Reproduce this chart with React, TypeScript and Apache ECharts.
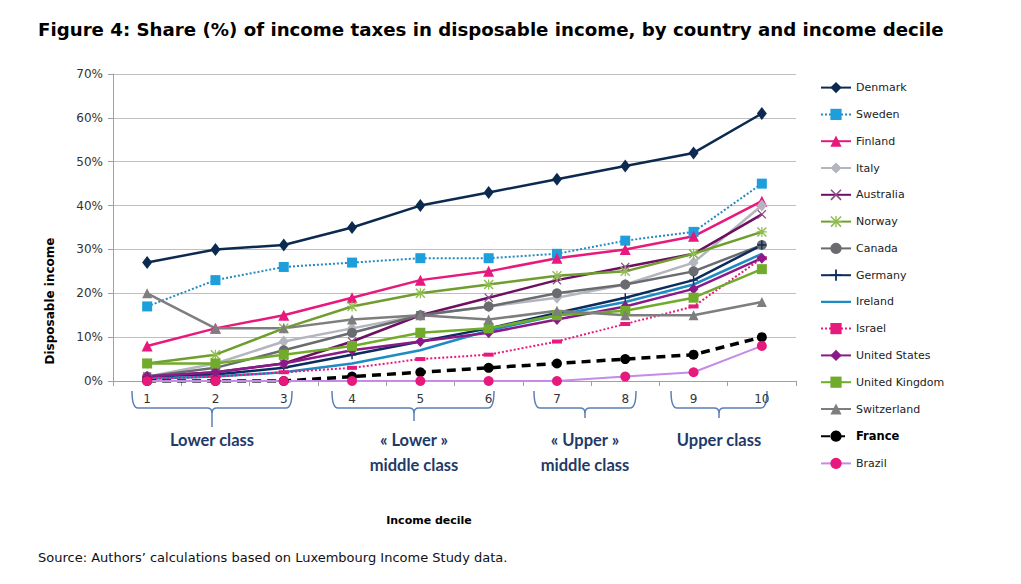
import React, { useEffect, useRef } from "react";
import * as echarts from "echarts";

const deciles = ["1", "2", "3", "4", "5", "6", "7", "8", "9", "10"];
const yTicks = [0, 10, 20, 30, 40, 50, 60, 70];

const denmark = [27, 30, 31, 35, 40, 43, 46, 49, 52, 61];
const sweden = [17, 23, 26, 27, 28, 28, 29, 32, 34, 45];
const finland = [8, 12, 15, 19, 23, 25, 28, 30, 33, 41];
const italy = [1, 4, 9, 12, 15, 17, 19, 22, 27, 40];
const australia = [1, 2, 4, 9, 15, 19, 23, 26, 29, 38];
const norway = [4, 6, 12, 17, 20, 22, 24, 25, 29, 34];
const canada = [1, 3, 7, 11, 15, 17, 20, 22, 25, 31];
const germany = [1, 1.5, 3, 6, 9, 12, 15.5, 19, 23, 31];
const ireland = [0.5, 1, 2, 4, 7, 11.5, 15, 18, 22, 29];
const israel = [0.5, 1, 2, 3, 5, 6, 9, 13, 17, 28];
const unitedStates = [1, 2, 4, 7, 9, 11, 14, 17, 21, 28];
const unitedKingdom = [4, 4, 6, 8, 11, 12, 15, 16, 19, 25.5];
const switzerland = [20, 12, 12, 14, 15, 14, 16, 15, 15, 18];
const france = [0, 0, 0, 1, 2, 3, 4, 5, 6, 10];
const brazil = [0, 0, 0, 0, 0, 0, 0, 1, 2, 8];

const PLUS = "path://M4.2,0H5.8V4.2H10V5.8H5.8V10H4.2V5.8H0V4.2H4.2Z";
const XMARK = "path://M1,0L5,4L9,0L10,1L6,5L10,9L9,10L5,6L1,10L0,9L4,5L0,1Z";
const ASTER =
  "path://M1,0L5,4L9,0L10,1L6,5L10,9L9,10L5,6L1,10L0,9L4,5L0,1ZM4.4,0H5.6V4.4H10V5.6H5.6V10H4.4V5.6H0V4.4H4.4Z";
const LINE_ONLY_ICON = "path://M0,2H0.01V2.01H0ZM0,5.8H30V8.2H0ZM29.99,11.99H30V12H29.99Z";

type Spec = {
  name: string;
  data: number[];
  line: string;
  marker: string;
  symbol: string;
  size: number | number[];
  width: number;
  type?: any;
};

const specs: Spec[] = [
  { name: "Denmark", data: denmark, line: "#0c2a50", marker: "#0c2a50", symbol: "diamond", size: [10, 13], width: 2.5 },
  { name: "Sweden", data: sweden, line: "#2389c2", marker: "#1e9fdc", symbol: "rect", size: 10, width: 2, type: [2, 2] },
  { name: "Finland", data: finland, line: "#e8197c", marker: "#e8197c", symbol: "triangle", size: 11, width: 2.5 },
  { name: "Italy", data: italy, line: "#b3b6bf", marker: "#b3b6bf", symbol: "diamond", size: [10, 12], width: 2.5 },
  { name: "Australia", data: australia, line: "#6e1062", marker: "#8d4c87", symbol: XMARK, size: 9, width: 2.5 },
  { name: "Norway", data: norway, line: "#6f9e2e", marker: "#8fbd4f", symbol: ASTER, size: 10, width: 2.5 },
  { name: "Canada", data: canada, line: "#6a6b6f", marker: "#6a6b6f", symbol: "circle", size: 10, width: 2.5 },
  { name: "Germany", data: germany, line: "#0b2c5e", marker: "#0b2c5e", symbol: PLUS, size: 9, width: 2.5 },
  { name: "Ireland", data: ireland, line: "#1c8cc3", marker: "#1c8cc3", symbol: "none", size: 0, width: 2.5 },
  { name: "Israel", data: israel, line: "#e8197c", marker: "#e8197c", symbol: "rect", size: [10, 4], width: 2, type: [2, 2] },
  { name: "United States", data: unitedStates, line: "#8a1a88", marker: "#8a1a88", symbol: "diamond", size: [10, 11], width: 2.5 },
  { name: "United Kingdom", data: unitedKingdom, line: "#70ab2c", marker: "#70ab2c", symbol: "rect", size: 10, width: 2.5 },
  { name: "Switzerland", data: switzerland, line: "#7e7e7e", marker: "#7e7e7e", symbol: "triangle", size: 10, width: 2.5 },
  { name: "France", data: france, line: "#000000", marker: "#000000", symbol: "circle", size: 10, width: 3.5, type: [9, 6] },
  { name: "Brazil", data: brazil, line: "#c48be8", marker: "#e8197c", symbol: "circle", size: 10, width: 2 },
];

const groups = [
  { x0: 132, x1: 292, mid: 212, spike: 427, label: "Lower class" },
  { x0: 332, x1: 494, mid: 414, spike: 421, label: "« Lower »\nmiddle class" },
  { x0: 534, x1: 636, mid: 585, spike: 418, label: "« Upper »\nmiddle class" },
  { x0: 671, x1: 767, mid: 719, spike: 418, label: "Upper class" },
];

function brace(g: typeof groups[number]) {
  const top = 391;
  const h = 408;
  const r = 6;
  const s = { stroke: "#5a7fb6", lineWidth: 1.5, fill: "none" };
  const out: any[] = [
    { type: "bezierCurve", shape: { x1: g.x0, y1: top, x2: g.x0 + r, y2: h, cpx1: g.x0, cpy1: h }, style: s },
    { type: "line", shape: { x1: g.x0 + r, y1: h, x2: g.mid - 5, y2: h }, style: s },
    { type: "bezierCurve", shape: { x1: g.mid - 5, y1: h, x2: g.mid, y2: h + 5, cpx1: g.mid, cpy1: h }, style: s },
    { type: "bezierCurve", shape: { x1: g.mid + 5, y1: h, x2: g.mid, y2: h + 5, cpx1: g.mid, cpy1: h }, style: s },
    { type: "line", shape: { x1: g.mid, y1: h + 5, x2: g.mid, y2: g.spike }, style: s },
    { type: "line", shape: { x1: g.mid + 5, y1: h, x2: g.x1 - r, y2: h }, style: s },
    { type: "bezierCurve", shape: { x1: g.x1 - r, y1: h, x2: g.x1, y2: top, cpx1: g.x1, cpy1: h }, style: s },
    {
      type: "text",
      x: g.mid,
      y: 427,
      style: {
        text: g.label,
        fill: "#1f3a68",
        font: "bold 16.5px Lato",
        lineHeight: 25,
        align: "center",
        verticalAlign: "top",
      },
    },
  ];
  return out;
}

export default function App() {
  const ref = useRef<HTMLDivElement>(null);
  useEffect(() => {
    document.body.style.margin = "0";
    const chart = echarts.init(ref.current!, undefined, { renderer: "svg" });
    const font = "DejaVu Sans";
    chart.setOption({
      animation: false,
      backgroundColor: "#ffffff",
      grid: { left: 113, right: 225, top: 74, bottom: 203, containLabel: false },
      legend: {
        orient: "vertical",
        left: 815,
        top: 77,
        itemWidth: 30,
        itemHeight: 14,
        itemGap: 15.6,
        textStyle: { fontFamily: font, fontSize: 11, color: "#222" },
        data: specs.map((s) => {
          if (s.name === "France") return { name: s.name, textStyle: { fontWeight: "bold", fontSize: 11.5, color: "#000" } };
          if (s.symbol === "none") return { name: s.name, icon: LINE_ONLY_ICON };
          return s.name;
        }),
        selectedMode: false,
      },
      xAxis: {
        type: "category",
        data: deciles,
        boundaryGap: true,
        axisLine: { lineStyle: { color: "#a0a0a0", width: 1 } },
        axisTick: { show: true, interval: 0, length: 5, lineStyle: { color: "#a0a0a0" } },
        axisLabel: { fontFamily: font, fontSize: 12, color: "#333", margin: 12 },
        splitLine: { show: false },
      },
      yAxis: {
        type: "value",
        min: yTicks[0],
        max: yTicks[yTicks.length - 1],
        interval: 10,
        axisLine: { show: true, lineStyle: { color: "#a0a0a0", width: 1 } },
        axisTick: { show: true, length: 5, lineStyle: { color: "#a0a0a0" } },
        axisLabel: { fontFamily: font, fontSize: 12, color: "#333", margin: 10, formatter: "{value}%" },
        splitLine: { show: true, lineStyle: { color: "#bfbfbf", width: 1 } },
      },
      series: specs.map((s) => ({
        name: s.name,
        type: "line",
        data: s.data,
        symbol: s.symbol,
        symbolSize: s.size,
        showSymbol: s.symbol !== "none",
        lineStyle: { color: s.line, width: s.width, type: s.type || "solid" },
        itemStyle: { color: s.marker, borderWidth: 0 },
        emphasis: { disabled: true },
        z: 2,
      })),
      graphic: [
        {
          type: "text",
          left: 38,
          top: 20,
          style: {
            text: "Figure 4: Share (%) of income taxes in disposable income, by country and income decile",
            font: "bold 18.2px 'DejaVu Sans'",
            fill: "#000",
          },
        },
        {
          type: "text",
          x: 50,
          y: 301,
          rotation: Math.PI / 2,
          style: {
            text: "Disposable income",
            font: "bold 12px 'DejaVu Sans'",
            fill: "#000",
            align: "center",
            verticalAlign: "middle",
          },
        },
        {
          type: "text",
          x: 429,
          y: 520,
          style: {
            text: "Income decile",
            font: "bold 11px 'DejaVu Sans'",
            fill: "#000",
            align: "center",
            verticalAlign: "middle",
          },
        },
        {
          type: "text",
          x: 38,
          y: 557,
          style: {
            text: "Source: Authors\u2019 calculations based on Luxembourg Income Study data.",
            font: "13px 'DejaVu Sans'",
            fill: "#111",
            verticalAlign: "middle",
          },
        },
        ...groups.flatMap((g) => brace(g)),
      ],
    });
    return () => chart.dispose();
  }, []);
  return <div ref={ref} style={{ position: "absolute", left: 0, top: 0, width: 1021, height: 584 }} />;
}
